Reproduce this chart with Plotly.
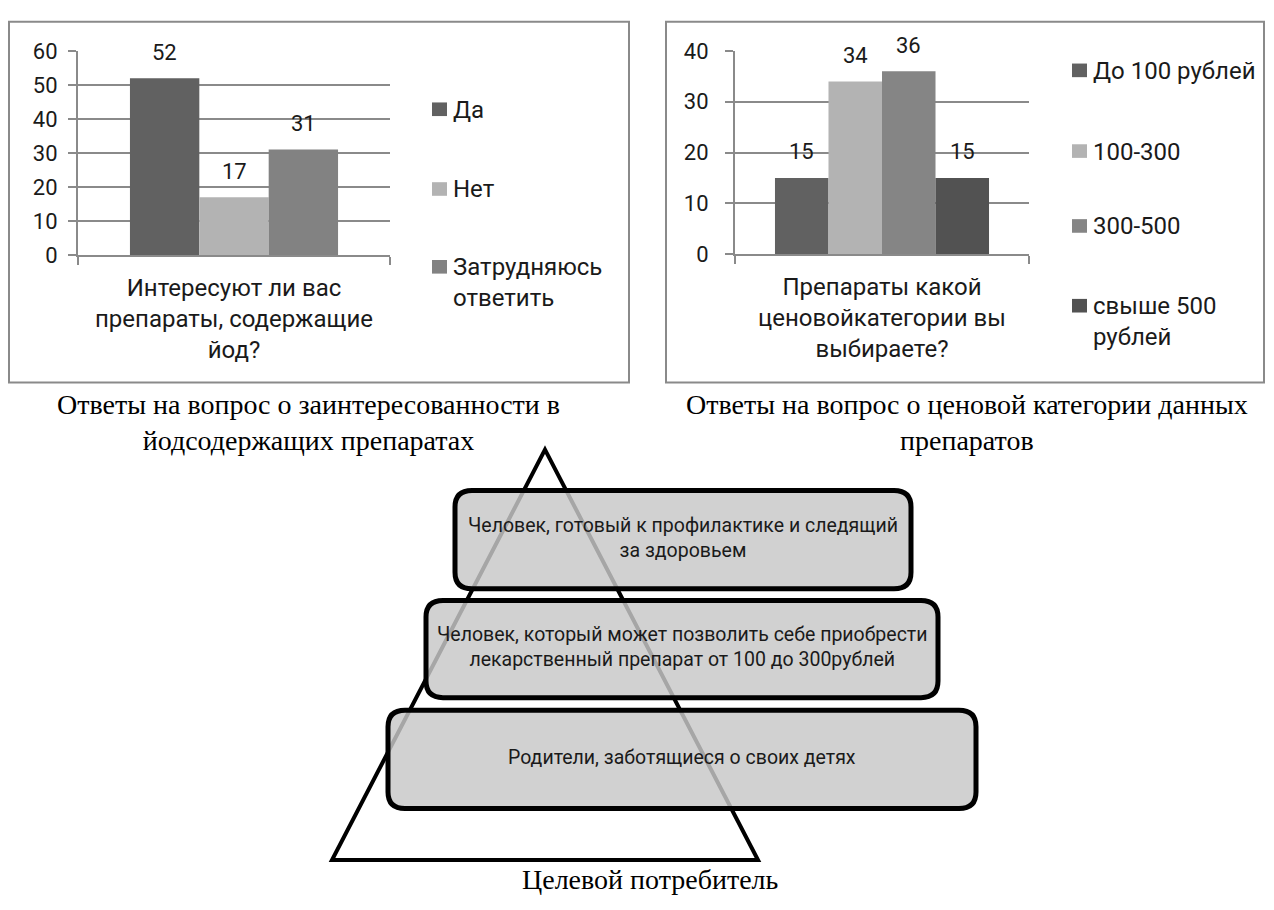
import plotly.graph_objects as go

# ---- survey data -------------------------------------------------------
q1_category = "Интересуют ли вас<br>препараты, содержащие<br>йод?"
q1_names = ["Да", "Нет", "Затрудняюсь<br>ответить"]
q1_values = [52, 17, 31]
q1_colors = ["#616161", "#b3b3b3", "#828282"]

q2_category = "Препараты какой<br>ценовойкатегории вы<br>выбираете?"
q2_names = ["До 100 рублей", "100-300", "300-500", "свыше 500<br>рублей"]
q2_values = [15, 34, 36, 15]
q2_colors = ["#616161", "#b3b3b3", "#858585", "#525252"]

caption_1 = "Ответы на вопрос о заинтересованности в<br>йодсодержащих препаратах"
caption_2 = "Ответы на вопрос о ценовой категории данных<br>препаратов"

pyramid_levels = [
    "Человек, готовый к профилактике и следящий<br>за здоровьем",
    "Человек, который может позволить себе приобрести<br>лекарственный препарат от 100 до 300рублей",
    "Родители, заботящиеся о своих детях",
]
pyramid_caption = "Целевой потребитель"

# ---- canvas helpers (pixel -> paper) -----------------------------------
W, H = 1274, 910
SANS = "Roboto, 'Open Sans', sans-serif"
SERIF = "'Liberation Serif', 'Times New Roman', serif"
GRID = "#8a8a8a"
TXT = "#1a1a1a"


def px(x):
    return x / W


def py(y):
    return 1 - y / H


fig = go.Figure()
annotations = []
shapes = []


def add_bars(names, values, colors, category, xa, ya, group_frac):
    n = len(values)
    w = group_frac / n
    for i, (nm, v, c) in enumerate(zip(names, values, colors)):
        off = -group_frac / 2 + i * w
        fig.add_trace(go.Bar(
            x=[category], y=[v], name=nm.replace("<br>", " "),
            marker=dict(color=c, line=dict(width=0)),
            width=w, offset=off, showlegend=False,
            xaxis=xa, yaxis=ya,
        ))
        # value label floating above the bar
        annotations.append(dict(
            xref=xa, yref=ya, x=off + w / 2, y=v, text=str(v),
            showarrow=False, xanchor="center", yanchor="middle", yshift=26,
            font=dict(family=SANS, size=22, color=TXT),
        ))


add_bars(q1_names, q1_values, q1_colors, q1_category, "x", "y", 0.667)
add_bars(q2_names, q2_values, q2_colors, q2_category, "x2", "y2", 0.728)

axis_common_x = dict(
    type="category", showline=True, linecolor=GRID, linewidth=2,
    ticks="outside", tickson="boundaries", ticklen=8, tickcolor=GRID, tickwidth=2,
    tickfont=dict(family=SANS, size=24, color=TXT), ticklabelstandoff=10,
    showgrid=False, fixedrange=True,
)
axis_common_y = dict(
    showline=True, linecolor=GRID, linewidth=2,
    ticks="outside", ticklen=8, tickcolor=GRID, tickwidth=2,
    showgrid=True, gridcolor=GRID, gridwidth=2, zeroline=False,
    tickfont=dict(family=SANS, size=22, color=TXT), fixedrange=True,
)

fig.update_layout(
    width=W, height=H, margin=dict(l=0, r=0, t=0, b=0),
    paper_bgcolor="white", plot_bgcolor="white",
    barmode="overlay", showlegend=False,
    xaxis=dict(domain=[px(78), px(390)], anchor="y", **axis_common_x),
    yaxis=dict(domain=[py(250), py(40)], anchor="x", range=[0, 60], dtick=10,
               ticklabelstandoff=6, **axis_common_y),
    xaxis2=dict(domain=[px(735), px(1029)], anchor="y2", **axis_common_x),
    yaxis2=dict(domain=[py(249), py(40)], anchor="x2", range=[0, 40], dtick=10,
                ticklabelstandoff=12, **axis_common_y),
)

# chart frames
for x0, x1 in [(9, 629), (666, 1264)]:
    shapes.append(dict(type="rect", xref="paper", yref="paper",
                       x0=px(x0), x1=px(x1), y0=py(381), y1=py(10),
                       line=dict(color=GRID, width=2), fillcolor="rgba(0,0,0,0)"))


# legends
def add_legend(names, colors, sq_x, text_x, centers):
    for nm, c, cy in zip(names, colors, centers):
        shapes.append(dict(type="rect", xref="paper", yref="paper",
                           x0=px(sq_x), x1=px(sq_x + 15), y0=py(cy + 7), y1=py(cy - 7),
                           line=dict(width=0), fillcolor=c))
        annotations.append(dict(xref="paper", yref="paper", x=px(text_x), y=py(cy - 16),
                                xanchor="left", yanchor="top", align="left",
                                text=nm, showarrow=False,
                                font=dict(family=SANS, size=24, color=TXT)))


add_legend(q1_names, q1_colors, 432, 451, [100, 182, 262])
add_legend(q2_names, q2_colors, 1072, 1091, [60, 143, 220, 302])

# captions under the charts
annotations.append(dict(xref="paper", yref="paper", x=px(308), y=py(386),
                        xanchor="center", yanchor="top", text=caption_1, showarrow=False,
                        font=dict(family=SERIF, size=28, color="#000000")))
annotations.append(dict(xref="paper", yref="paper", x=px(967), y=py(386),
                        xanchor="center", yanchor="top", text=caption_2, showarrow=False,
                        font=dict(family=SERIF, size=28, color="#000000")))

# pyramid outline (drawn first so the boxes veil it)
apex, base_l, base_r = (545, 450), (332, 872), (758, 872)
shapes.append(dict(type="path", xref="paper", yref="paper",
                   path=f"M{px(apex[0])},{py(apex[1])} L{px(base_r[0])},{py(base_r[1])} "
                        f"L{px(base_l[0])},{py(base_l[1])} Z",
                   line=dict(color="#000000", width=4), fillcolor="rgba(0,0,0,0)"))


def rounded_box(x0, y0, x1, y1, r):
    xs = lambda v: px(v)
    ys = lambda v: py(v)
    return (f"M{xs(x0 + r)},{ys(y0)} L{xs(x1 - r)},{ys(y0)} "
            f"Q{xs(x1)},{ys(y0)} {xs(x1)},{ys(y0 + r)} L{xs(x1)},{ys(y1 - r)} "
            f"Q{xs(x1)},{ys(y1)} {xs(x1 - r)},{ys(y1)} L{xs(x0 + r)},{ys(y1)} "
            f"Q{xs(x0)},{ys(y1)} {xs(x0)},{ys(y1 - r)} L{xs(x0)},{ys(y0 + r)} "
            f"Q{xs(x0)},{ys(y0)} {xs(x0 + r)},{ys(y0)} Z")


boxes = [(455, 492, 911, 593), (426, 605, 938, 705), (388, 718, 976, 819)]
for (x0, y0, x1, y1), label in zip(boxes, pyramid_levels):
    shapes.append(dict(type="path", xref="paper", yref="paper",
                       path=rounded_box(x0, y0, x1, y1, 17),
                       line=dict(color="#000000", width=5),
                       fillcolor="rgba(200,200,200,0.83)"))
    annotations.append(dict(xref="paper", yref="paper", x=px((x0 + x1) / 2),
                            y=py((y0 + y1) / 2 - 2), xanchor="center", yanchor="middle",
                            text=label, showarrow=False, align="center",
                            font=dict(family=SANS, size=19.5, color=TXT)))

annotations.append(dict(xref="paper", yref="paper", x=px(650), y=py(892),
                        xanchor="center", yanchor="middle", text=pyramid_caption,
                        showarrow=False,
                        font=dict(family=SERIF, size=28, color="#000000")))

fig.update_layout(shapes=shapes, annotations=annotations)
fig.write_html("out.html")
